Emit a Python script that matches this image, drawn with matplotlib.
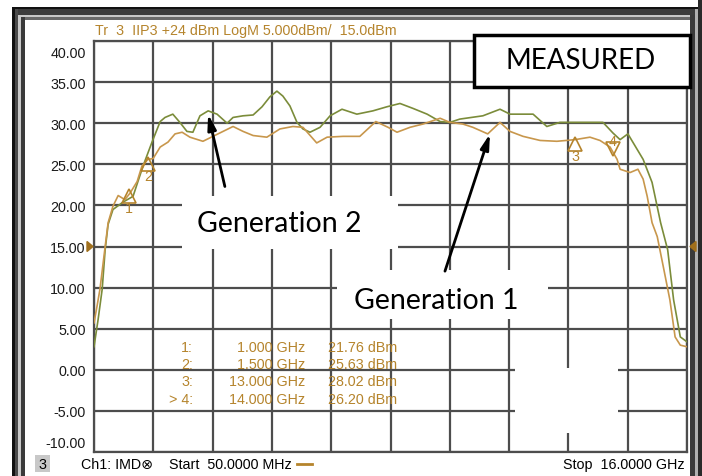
import numpy as np
import matplotlib
matplotlib.use('Agg')
import matplotlib.pyplot as plt
from matplotlib.patches import Rectangle, Polygon
from matplotlib import transforms

# trace data (GHz, dBm)
gen2_freq = [0.05, 0.16, 0.27, 0.35, 0.43, 0.56, 0.83, 1.10, 1.37, 1.61, 1.83, 1.96, 2.17, 2.36,
             2.55, 2.71, 2.90, 3.12, 3.36, 3.63, 3.79, 4.06, 4.33, 4.57, 4.78, 4.97, 5.13, 5.32,
             5.51, 5.67, 5.86, 6.13, 6.40, 6.72, 7.12, 7.55, 7.93, 8.28, 8.63, 9.01, 9.36, 9.62,
             9.89, 10.51, 10.97, 11.24, 11.86, 12.23, 12.58, 13.74, 14.01, 14.20, 14.41, 14.82,
             15.06, 15.29, 15.48, 15.64, 15.82, 16.0]
gen2_db = [2.8, 6.1, 9.8, 14.6, 17.7, 19.5, 20.4, 21.1, 24.8, 27.7, 30.2, 30.7, 31.1, 30.1,
           29.0, 28.9, 30.9, 31.5, 31.1, 30.0, 30.7, 30.9, 31.0, 32.0, 33.2, 33.9, 33.3, 32.1,
           30.1, 29.3, 28.9, 29.5, 30.9, 31.7, 31.1, 31.5, 32.0, 32.4, 31.8, 31.1, 30.2, 30.1,
           30.5, 30.9, 31.7, 31.1, 31.1, 29.6, 30.1, 30.1, 28.8, 28.0, 28.7, 25.6,
           22.8, 17.9, 14.6, 8.5, 4.0, 3.4]

gen1_freq = [0.05, 0.13, 0.21, 0.35, 0.43, 0.56, 0.70, 0.88, 1.02, 1.21, 1.34, 1.50, 1.64, 1.83,
             2.04, 2.23, 2.42, 2.63, 2.98, 3.25, 3.52, 3.79, 4.06, 4.33, 4.70, 5.05, 5.40, 5.67,
             6.04, 6.32, 6.75, 7.20, 7.63, 7.96, 8.20, 8.55, 8.90, 9.36, 9.62, 9.97, 10.24, 10.64,
             10.97, 11.24, 11.59, 12.05, 12.50, 12.99, 13.39, 13.66, 13.93, 14.12, 14.20, 14.47,
             14.68, 14.82, 14.93, 15.06, 15.20, 15.36, 15.54, 15.68, 15.82, 16.0]
gen1_db = [5.7, 7.7, 9.8, 15.0, 17.9, 19.9, 21.2, 20.7, 21.5, 22.9, 24.8, 25.6, 25.7, 27.1,
           27.7, 28.7, 28.9, 28.3, 27.8, 28.4, 29.0, 29.6, 29.0, 28.5, 28.3, 29.3, 29.6, 29.5,
           27.6, 28.3, 28.4, 28.4, 30.2, 29.5, 28.9, 29.5, 29.9, 30.6, 30.1, 29.9, 29.5, 28.7,
           30.1, 29.0, 28.4, 27.9, 27.8, 28.0, 28.3, 27.9, 27.1, 25.6, 24.4, 24.0,
           24.4, 23.2, 21.1, 17.9, 16.2, 12.6, 8.5, 4.0, 3.0, 2.8]

# markers on trace 3
mk_ids = ['1', '2', '3', '4']
mk_freq = [1.0, 1.5, 13.0, 14.0]
mk_val = [21.76, 25.63, 28.02, 26.20]

yticks = [40, 35, 30, 25, 20, 15, 10, 5, 0, -5, -10]
f_start, f_stop = 0.05, 16.0
ref_level = 15.0

W, H = 702, 477
GOLD = '#b5842c'
ORANGE = '#c8974c'
GREEN = '#7b8c3a'
GRID = '#4d4d4d'
INSTR = ['Liberation Sans', 'DejaVu Sans']
CAL = 'Lato'

fig = plt.figure(figsize=(W / 100, H / 100), dpi=100)


def fx(x):
    return x / W


def fy(y):
    return 1 - y / H


def frect(x0, y0, x1, y1, color, **kw):
    fig.patches.append(Rectangle((fx(x0), fy(y1)), (x1 - x0) / W, (y1 - y0) / H,
                                 transform=fig.transFigure, facecolor=color,
                                 edgecolor=kw.pop('ec', 'none'), **kw))


# window frame
frect(12, 8, 702, 16, '#3c3c3c')
frect(12, 8, 702, 10, '#111111')
frect(18, 16, 697, 18, '#c8c8c8')
frect(21, 18, 695, 21, '#6a6a6a')
frect(12, 8, 15, 477, '#111111')
frect(15, 10, 18, 477, '#4a4a4a')
frect(18, 16, 21, 477, '#c8c8c8')
frect(21, 18, 25, 477, '#3a3a3a')
frect(690, 16, 695, 477, '#3a3a3a')
frect(695, 10, 698, 477, '#b0b0b0')
frect(698, 0, 702, 477, '#2a2a2a')

ax = fig.add_axes([fx(94), fy(453), (687 - 94) / W, (453 - 42) / H])
ax.set_xlim(f_start, f_stop)
ax.set_ylim(-10, 40)
ax.set_xticks(np.linspace(f_start, f_stop, 11))
ax.set_xticklabels([])
ax.set_yticks(yticks)
ax.set_yticklabels([f'{v:.2f}' for v in yticks], fontsize=10.3, family=INSTR, color='#1a1a1a')
ax.tick_params(length=0, pad=6)
# the instrument pulls the end labels inside the graticule
tl = ax.get_yticklabels()
tl[0].set_transform(tl[0].get_transform() + transforms.ScaledTranslation(0, -0.10, fig.dpi_scale_trans))
tl[-1].set_transform(tl[-1].get_transform() + transforms.ScaledTranslation(0, 0.10, fig.dpi_scale_trans))
ax.set_axisbelow(True)
ax.grid(True, color=GRID, lw=1.6)
for s in ax.spines.values():
    s.set_color(GRID)
    s.set_linewidth(1.6)

# white patches pasted over the grid
for x0, x1, y0, y1 in [(2.42, 8.23, 14.7, 21.1), (6.59, 12.26, 6.2, 12.1), (11.37, 14.14, -7.7, 0.25)]:
    ax.add_patch(Rectangle((x0, y0), x1 - x0, y1 - y0, facecolor='white', edgecolor='none', zorder=1))

ax.plot(gen2_freq, gen2_db, color=GREEN, lw=1.2, zorder=3)
ax.plot(gen1_freq, gen1_db, color=ORANGE, lw=1.2, zorder=3)

# marker triangles
down = transforms.offset_copy(ax.transData, fig=fig, x=0, y=-5, units='dots')
up = transforms.offset_copy(ax.transData, fig=fig, x=0, y=5, units='dots')
ax.plot(mk_freq[:3], mk_val[:3], marker='^', ms=10, mfc='none', mec=GOLD, mew=1.2,
        ls='none', transform=down, zorder=4)
ax.plot(mk_freq[3:], mk_val[3:], marker='v', ms=10, mfc='none', mec=GOLD, mew=1.2,
        ls='none', transform=up, zorder=4)
for i, (f, v) in enumerate(zip(mk_freq, mk_val)):
    dy = 13 if i == 3 else -17
    ax.annotate(mk_ids[i], (f, v), xytext=(0, dy), textcoords='offset pixels', ha='center',
                va='center', fontsize=10.3, family=INSTR, color=GOLD, zorder=4)

# reference level arrows
yr = 453 - (ref_level + 10) / 50 * (453 - 42)
fig.patches.append(Polygon([[fx(87), fy(yr - 5)], [fx(87), fy(yr + 5)], [fx(93), fy(yr)]],
                           closed=True, transform=fig.transFigure, color='#a06f1c'))
fig.patches.append(Polygon([[fx(696), fy(yr - 5)], [fx(696), fy(yr + 5)], [fx(690), fy(yr)]],
                           closed=True, transform=fig.transFigure, color='#a06f1c'))

# header
fig.text(fx(95), fy(31), 'Tr  3  IIP3 +24 dBm LogM 5.000dBm/  15.0dBm', fontsize=10.3,
         family=INSTR, color=GOLD, va='center')

# marker table
rows = [348, 365, 382, 400]
for i, r in enumerate(rows):
    lab = ('> ' if i == 3 else '') + mk_ids[i] + ':'
    fig.text(fx(193), fy(r), lab, ha='right', va='center', fontsize=10.3, family=INSTR, color=GOLD)
    fig.text(fx(305), fy(r), f'{mk_freq[i]:.3f} GHz', ha='right', va='center', fontsize=10.3,
             family=INSTR, color=GOLD)
    fig.text(fx(397), fy(r), f'{mk_val[i]:.2f} dBm', ha='right', va='center', fontsize=10.3,
             family=INSTR, color=GOLD)

# footer
frect(35, 456, 50, 473, '#c8c8c8')
fig.text(fx(42.5), fy(465), '3', ha='center', va='center', fontsize=10.3, family=INSTR)
fig.text(fx(81), fy(465), 'Ch1: IMD\u2297', va='center', fontsize=10.3, family=INSTR)
fig.text(fx(169), fy(465), 'Start  50.0000 MHz', va='center', fontsize=10.3, family=INSTR)
fig.lines.append(plt.Line2D([fx(297), fx(312)], [fy(465), fy(465)], transform=fig.transFigure,
                            color=GOLD, lw=2))
fig.text(fx(685), fy(465), 'Stop  16.0000 GHz', ha='right', va='center', fontsize=10.3, family=INSTR)

# MEASURED box
frect(474, 36, 690, 88, 'white', ec='black', lw=2.5, zorder=5)
fig.text(fx(581), fy(61), 'MEASURED', ha='center', va='center', fontsize=20, family=CAL,
         color='black', zorder=6)

# generation labels and arrows
ax.text(2.82, 17.8, 'Generation 2', fontsize=20.5, family=CAL, va='center', zorder=5)
ax.text(7.04, 8.5, 'Generation 1', fontsize=20.5, family=CAL, va='center', zorder=5)
arrow = dict(arrowstyle='-|>,head_width=0.25,head_length=0.9', lw=2, color='black',
             shrinkA=0, shrinkB=0)
ax.annotate('', xy=(3.12, 31.1), xytext=(3.57, 22.3), arrowprops=arrow, zorder=5)
ax.annotate('', xy=(10.7, 28.7), xytext=(9.49, 12.0), arrowprops=arrow, zorder=5)

fig.savefig('out.png', dpi=100)
